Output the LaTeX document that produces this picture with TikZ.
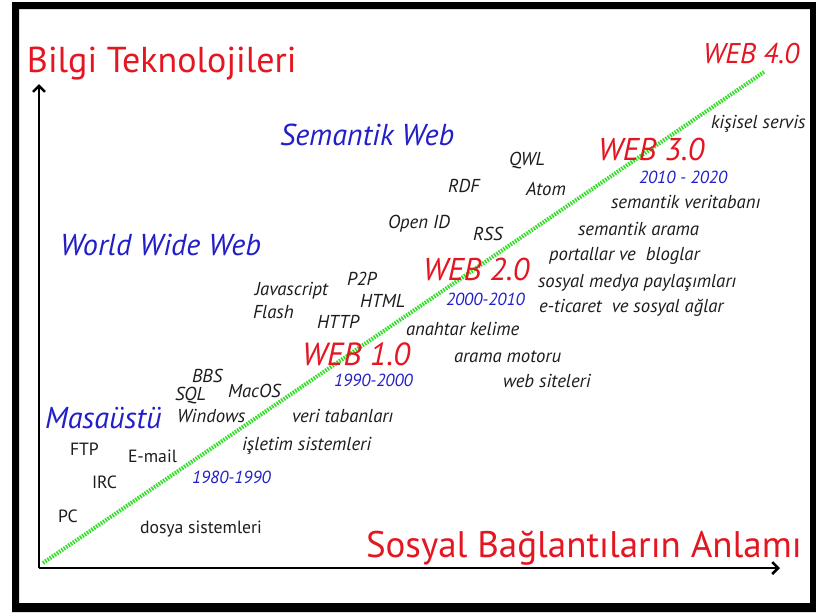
\documentclass[tikz,border=0pt]{standalone}
\usepackage{fontspec}
\setmainfont{PT Sans}
\usetikzlibrary{arrows.meta}
\definecolor{wred}{RGB}{228,22,34}
\definecolor{wblue}{RGB}{34,30,200}
\definecolor{wtxt}{RGB}{30,28,30}
\definecolor{wgreen}{RGB}{50,222,40}
\begin{document}
\begin{tikzpicture}[x=1pt,y=-1pt,
  base/.style={anchor=base west,inner sep=0pt,outer sep=0pt},
  tech/.style={base,text=wtxt,font=\itshape\fontsize{18.7}{18.7}\selectfont},
  techup/.style={base,text=wtxt,font=\fontsize{17.7}{17.7}\selectfont},
  era/.style={base,text=wblue,font=\itshape\fontsize{30.2}{30.2}\selectfont},
  date/.style={base,text=wblue,font=\itshape\fontsize{17.5}{17.5}\selectfont},
  webv/.style={base,text=wred,font=\itshape\fontsize{31.5}{31.5}\selectfont},
  axislbl/.style={base,text=wred,font=\fontsize{36}{36}\selectfont},
  axis/.style={line width=2.5pt,-{Straight Barb[length=6pt,width=12pt,line width=2.5pt]}},
  trend/.style={wgreen,line width=4pt,dash pattern=on 1.6pt off 1.2pt}]
\useasboundingbox (0,0) rectangle (816,614);
\fill[white] (0,0) rectangle (816,614);
% frame
\fill[black,even odd rule] (12,2) rectangle (816,612) (19,9) rectangle (810,603);
% axes
\coordinate (origin) at (39,568);
\coordinate (ytop) at (39,84);
\coordinate (xend) at (780,568);
\draw[axis] (origin) -- (ytop);
\draw[axis] (origin) -- (xend);
% trend line
\coordinate (tstart) at (43,563);
\coordinate (tend) at (764,72);
\draw[trend] (tstart) -- (tend);
% axis labels
\node[axislbl] (ylab) at (27,72) {Bilgi Teknolojileri};
\node[axislbl,font=\fontsize{37}{37}\selectfont] (xlab) at (366,557) {Sosyal Bağlantıların Anlamı};
% eras
\node[era] (sem) at (280,145) {Semantik Web};
\node[era] (www) at (60,255) {World Wide Web};
\node[era] (mas) at (45,428) {Masaüstü};
% web versions
\node[webv,font=\itshape\fontsize{28.5}{28.5}\selectfont] (w4) at (703,63) {WEB 4.0};
\node[webv] (w3) at (598,160) {WEB 3.0};
\node[webv] (w2) at (423,280) {WEB 2.0};
\node[webv,font=\itshape\fontsize{32}{32}\selectfont] (w1) at (302,365) {WEB 1.0};
% dates
\node[date] (d3) at (639,183) {2010 - 2020};
\node[date] (d2) at (446,305) {2000-2010};
\node[date] (d1) at (334,386) {1990-2000};
\node[date] (d0) at (192,483) {1980-1990};
% web 4.0 / 3.0 items
\node[tech] (kis) at (711,128) {kişisel servis};
\node[tech] (qwl) at (509,165) {QWL};
\node[tech] (rdf) at (448,192) {RDF};
\node[tech] (atom) at (526,195) {Atom};
\node[tech] (svt) at (611,208) {semantik veritabanı};
\node[tech] (oid) at (388,228) {Open ID};
\node[tech] (rss) at (473,240) {RSS};
\node[tech] (sar) at (578,235) {semantik arama};
\node[tech] (pvb) at (549,260) {portallar ve\ \ bloglar};
\node[tech] (smp) at (538,287) {sosyal medya paylaşımları};
\node[tech] (eti) at (539,312) {e-ticaret\ \ ve sosyal ağlar};
% web 2.0 / 1.0 items
\node[tech] (js) at (255,295) {Javascript};
\node[tech] (p2p) at (347,285) {P2P};
\node[tech] (html) at (360,307) {HTML};
\node[tech] (fla) at (253,318) {Flash};
\node[tech] (http) at (317,328) {HTTP};
\node[tech] (ank) at (406,335) {anahtar kelime};
\node[tech] (amo) at (454,362) {arama motoru};
\node[tech] (wsi) at (503,387) {web siteleri};
% desktop items
\node[tech] (bbs) at (192,382) {BBS};
\node[tech] (sql) at (175,400) {SQL};
\node[tech] (mac) at (228,397) {MacOS};
\node[tech] (vt) at (292,422) {veri tabanları};
\node[tech] (win) at (177,422) {Windows};
\node[tech] (ist) at (242,450) {işletim sistemleri};
\node[techup] (ftp) at (70,455) {FTP};
\node[techup] (em) at (128,462) {E-mail};
\node[techup] (irc) at (92,488) {IRC};
\node[techup] (pc) at (58,522) {PC};
\node[techup] (dos) at (140,533) {dosya sistemleri};
\end{tikzpicture}
\end{document}
